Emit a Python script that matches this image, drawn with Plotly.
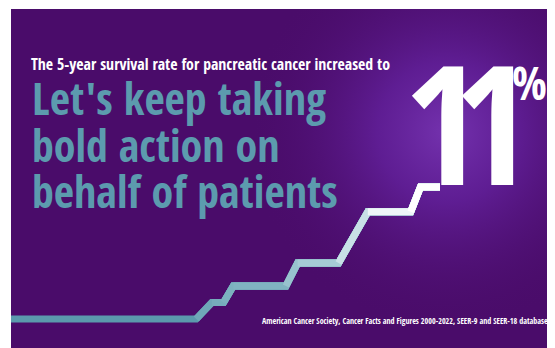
import base64
import plotly.graph_objects as go

# ---- data ----
years = [2000.0, 2009.5, 2010.3, 2010.9, 2011.4, 2014.1, 2014.7, 2016.8, 2018.3, 2020.5, 2021.0, 2022.0]
rates = [3.0, 3.0, 4.0, 4.0, 5.0, 5.0, 6.4, 6.4, 9.5, 9.5, 11.0, 11.0]
seg_colors = ["#5b9aad", "#6fa8b8", "#76adbc", "#7cb1bf", "#80b3c1", "#98c3ce",
              "#a6cbd5", "#c8e0e6", "#eef6f8", "#ffffff", "#ffffff", "#ffffff"]

intro = "The 5-year survival rate for pancreatic cancer increased to"
headline = ["Let's keep taking", "bold action on", "behalf of patients"]
big_value = "11"
source = "American Cancer Society, Cancer Facts and Figures 2000-2022, SEER-9 and SEER-18 databases"

# the page body keeps its default 8px margin, so the figure fills the rest of the window
W, H = 547, 340
COND = "Open Sans Condensed, Roboto Condensed, sans-serif"

# background: purple panel with radial glow (SVG)
svg = '''<svg xmlns="http://www.w3.org/2000/svg" width="544" height="339" viewBox="0 0 544 339">
<defs><radialGradient id="g" cx="436" cy="123" r="200" gradientUnits="userSpaceOnUse">
<stop offset="0" stop-color="#7432ae" stop-opacity="1"/>
<stop offset="0.35" stop-color="#62209a" stop-opacity="0.85"/>
<stop offset="1" stop-color="#4a0c6a" stop-opacity="0"/>
</radialGradient></defs>
<rect width="544" height="339" fill="#4a0c6a"/>
<rect width="544" height="339" fill="url(#g)"/>
</svg>'''
svg_uri = "data:image/svg+xml;base64," + base64.b64encode(svg.encode()).decode()

fig = go.Figure()

# stepped line, overlaid progressively lighter from each vertex onwards
for i in range(len(years) - 1):
    if i > 0 and seg_colors[i] == seg_colors[i - 1]:
        continue
    fig.add_trace(go.Scatter(
        x=years[i:], y=rates[i:], mode="lines",
        line=dict(color=seg_colors[i], width=7),
        hoverinfo="skip", showlegend=False))

# axis scaling (figure pixels): x = 3 + (yr-2000)*kx ; y = 179 - (rate-11)*ky
kx = 19.5
ky = 16.5
x0 = 2000 - 3 / kx
x1 = 2000 + (W - 3) / kx
y_top = 11 + 179 / ky
y_bot = 3 - (H - 311) / ky

fig.update_layout(
    width=W, height=H,
    margin=dict(l=0, r=0, t=0, b=0),
    paper_bgcolor="white", plot_bgcolor="rgba(0,0,0,0)",
    xaxis=dict(range=[x0, x1], visible=False, fixedrange=True),
    yaxis=dict(range=[y_bot, y_top], visible=False, fixedrange=True),
    showlegend=False,
    images=[dict(source=svg_uri, xref="paper", yref="paper",
                 x=3 / W, y=1 - 1 / H, sizex=544 / W, sizey=339 / H,
                 xanchor="left", yanchor="top", sizing="stretch", layer="below")],
)

def px(xp, yp):
    return xp / W, 1 - yp / H

ann = []
ax, ay = px(20.5, 56)
ann.append(dict(text=intro, x=ax, y=ay, xanchor="left", yanchor="middle",
                font=dict(family=COND, size=15.8, color="white", weight=700)))
for j, line in enumerate(headline):
    ax, ay = px(22, [90.5, 136.5, 183][j])
    ann.append(dict(text=line, x=ax, y=ay, xanchor="left", yanchor="middle",
                    font=dict(family=COND, size=44, color="#5c9bae", weight=700)))
# big "11" drawn one digit at a time
for j, cx in enumerate([434, 485]):
    ax, ay = px(cx, 113)
    ann.append(dict(text=big_value[j], x=ax, y=ay, xanchor="center", yanchor="middle",
                    font=dict(family=COND, size=166, color="white", weight=700)))
ax, ay = px(521, 73.5)
ann.append(dict(text="%", x=ax, y=ay, xanchor="center", yanchor="middle",
                font=dict(family=COND, size=46, color="white", weight=700)))
ax, ay = px(545, 312.5)
ann.append(dict(text=source, x=ax, y=ay, xanchor="right", yanchor="middle",
                font=dict(family=COND, size=8, color="white", weight=700)))
for a in ann:
    a.update(xref="paper", yref="paper", showarrow=False)
fig.update_layout(annotations=ann)

fig.write_html("out.html")
